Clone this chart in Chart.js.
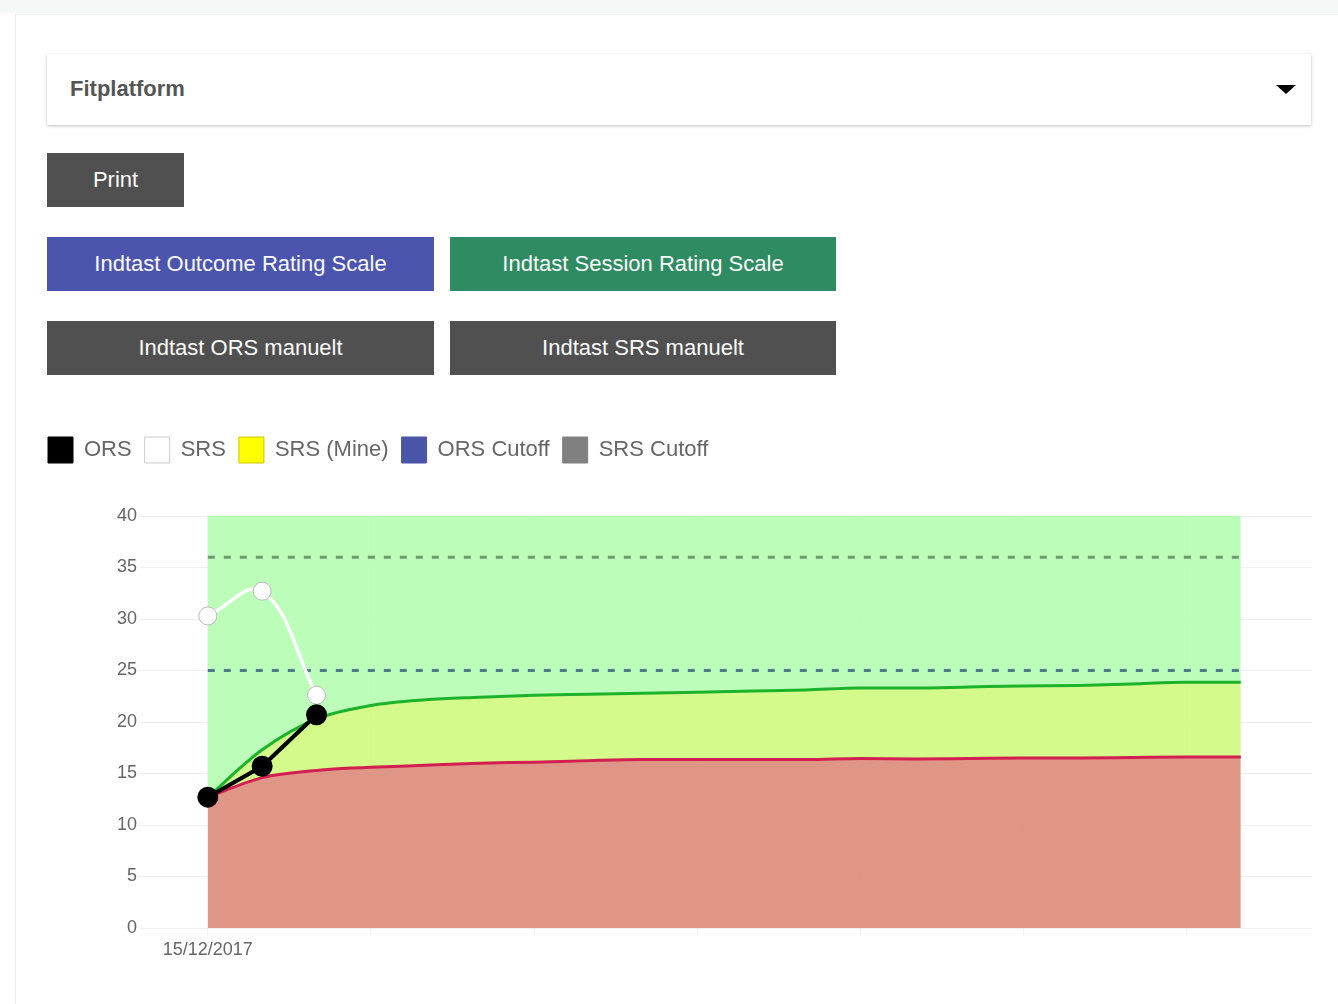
<!DOCTYPE html>
<html>
<head>
<meta charset="utf-8">
<script src="https://cdn.jsdelivr.net/npm/chart.js@4.4.0/dist/chart.umd.min.js"></script>
<style>
  html, body { margin: 0; padding: 0; }
  body { width: 1338px; height: 1004px; overflow: hidden; background: #fff; position: relative;
         font-family: "Liberation Sans", Arial, sans-serif; }
  .topbar { position: absolute; left: 0; top: 0; width: 1338px; height: 13px; background: #f6f8f8; }
  .card { position: absolute; left: 15px; top: 14px; width: 1340px; height: 1000px; background: #fff;
          border-left: 1px solid #ececec; border-top: 1px solid #f0f0f0; box-shadow: 0 0 2px rgba(0,0,0,0.06); }
  .panel { position: absolute; left: 47px; top: 54px; width: 1264px; height: 71px; background: #fff;
           box-shadow: 0 1px 3px rgba(0,0,0,0.25); }
  .panel span { position: absolute; left: 23px; top: 0; line-height: 69px; font-size: 22px; font-weight: bold; color: #555; }
  .caret { position: absolute; right: 15px; top: 31px; width: 0; height: 0;
           border-left: 10px solid transparent; border-right: 10px solid transparent; border-top: 9px solid #000; }
  .btn { position: absolute; height: 54px; line-height: 54px; color: #fafafa; font-size: 22px; text-align: center; }
  .dark { background: #505050; }
  .blue { background: #4b55ad; }
  .green { background: #2e8b62; }
  #chartBox { position: absolute; left: 35px; top: 424px; width: 1277px; height: 554px; }
</style>
</head>
<body>
<div class="topbar"></div>
<div class="card"></div>
<div class="panel"><span>Fitplatform</span><div class="caret"></div></div>
<div class="btn dark" style="left:47px;top:153px;width:137px;">Print</div>
<div class="btn blue" style="left:47px;top:237px;width:387px;">Indtast Outcome Rating Scale</div>
<div class="btn green" style="left:450px;top:237px;width:386px;">Indtast Session Rating Scale</div>
<div class="btn dark" style="left:47px;top:321px;width:387px;">Indtast ORS manuelt</div>
<div class="btn dark" style="left:450px;top:321px;width:386px;">Indtast SRS manuelt</div>
<div id="chartBox"><canvas id="chart"></canvas></div>

<script>
// Sessioner (kun første dato har label)
const sessionDates = ['15/12/2017', '', '', '', '', '', '', '', '', '', '', '', '', '', '', '', '', '', '', ''];
const gridSessions = [0, 3, 6, 9, 12, 15, 18];

// Scorer
const orsScores = [12.7, 15.7, 20.7];
const srsScores = [30.3, 32.7, 22.6];
const srsMineScores = [];

// Cutoff-linjer og forventet forløb
const orsCutoff = [25, 25, 25, 25, 25, 25, 25, 25, 25, 25, 25, 25, 25, 25, 25, 25, 25, 25, 25, 25];
const srsCutoff = [36, 36, 36, 36, 36, 36, 36, 36, 36, 36, 36, 36, 36, 36, 36, 36, 36, 36, 36, 36];
const scaleTop = [40, 40, 40, 40, 40, 40, 40, 40, 40, 40, 40, 40, 40, 40, 40, 40, 40, 40, 40, 40];
const expectedUpper = [12.7, 17.3, 20.3, 21.6, 22.15, 22.4, 22.6, 22.7, 22.8, 22.9, 23.0, 23.1, 23.3, 23.3, 23.4, 23.5, 23.55, 23.7, 23.85, 23.85];
const expectedLower = [12.7, 14.6, 15.3, 15.6, 15.8, 16.0, 16.1, 16.25, 16.35, 16.35, 16.35, 16.35, 16.45, 16.4, 16.45, 16.5, 16.5, 16.55, 16.6, 16.6];

const yTicks = [0, 5, 10, 15, 20, 25, 30, 35, 40];

const pts = arr => arr.map((y, i) => ({ x: i, y }));
const FONT = '"Liberation Sans", Arial, sans-serif';

// legenden skal have lidt luft ned til grafen
const legendGap = {
  id: 'legendGap',
  beforeInit(chart) {
    const fit = chart.legend.fit;
    chart.legend.fit = function () {
      fit.bind(chart.legend)();
      this.height += 43;
    };
  }
};

new Chart(document.getElementById('chart'), {
  type: 'line',
  data: {
    datasets: [
      { label: 'ORS', data: pts(orsScores), borderColor: '#000', backgroundColor: '#000', borderWidth: 4,
        pointRadius: 8.5, pointHoverRadius: 8.5, tension: 0, fill: false },
      { label: 'SRS', data: pts(srsScores), borderColor: '#fff', backgroundColor: '#fff', borderWidth: 3.5,
        pointBorderColor: '#bbb', pointBorderWidth: 1, pointRadius: 9, pointHoverRadius: 9, tension: 0.4, fill: false },
      { label: 'SRS (Mine)', data: pts(srsMineScores), borderColor: '#c9c900', backgroundColor: '#ffff00', fill: false },
      { label: 'ORS Cutoff', data: pts(orsCutoff), borderColor: '#4b7c8b', borderWidth: 3, borderDash: [7, 9],
        pointRadius: 0, fill: false },
      { label: 'SRS Cutoff', data: pts(srsCutoff), borderColor: '#6e9a6f', borderWidth: 3, borderDash: [7, 9],
        pointRadius: 0, fill: false },
      { label: 'top', data: pts(scaleTop), borderWidth: 0, pointRadius: 0, backgroundColor: 'rgba(180,253,177,0.9)', fill: '+1' },
      { label: 'upper', data: pts(expectedUpper), borderColor: '#1db22b', borderWidth: 3, pointRadius: 0,
        cubicInterpolationMode: 'monotone', backgroundColor: 'rgba(206,250,125,0.9)', fill: '+1' },
      { label: 'lower', data: pts(expectedLower), borderColor: '#d21e50', borderWidth: 3, pointRadius: 0,
        cubicInterpolationMode: 'monotone', backgroundColor: 'rgba(219,139,121,0.9)', fill: 'origin' }
    ]
  },
  options: {
    responsive: true,
    maintainAspectRatio: false,
    animation: false,
    layout: { autoPadding: false, padding: { left: 0, right: 0, top: 0, bottom: 10 } },
    plugins: {
      tooltip: { enabled: false },
      filler: { drawTime: 'beforeDatasetsDraw' },
      legend: {
        position: 'top',
        align: 'start',
        labels: {
          boxWidth: 25, boxHeight: 26, padding: 13, color: '#666',
          font: { family: FONT, size: 22 },
          generateLabels: chart => {
            const fill = ['#000000', '#ffffff', '#ffff00', '#4a55a8', '#808080'];
            const stroke = ['#000000', '#cccccc', '#c9c900', '#4a55a8', '#808080'];
            return chart.data.datasets.slice(0, 5).map((ds, i) => ({
              text: ds.label, fillStyle: fill[i], strokeStyle: stroke[i], lineWidth: 1,
              hidden: false, datasetIndex: i, fontColor: '#666'
            }));
          }
        }
      }
    },
    scales: {
      x: {
        type: 'linear',
        min: -1.1,
        max: 20.31,
        afterFit: s => { s.height = 40; },
        afterBuildTicks: s => { s.ticks = gridSessions.map(v => ({ value: v })); },
        border: { display: false },
        grid: { color: 'rgba(0,0,0,0.05)', tickLength: 8 },
        ticks: { autoSkip: false, maxRotation: 0, color: '#666', font: { family: FONT, size: 18 },
                 callback: v => sessionDates[v] || '' }
      },
      y: {
        min: 0,
        max: 40,
        afterFit: s => { s.width = 113; },
        afterBuildTicks: s => { s.ticks = yTicks.map(v => ({ value: v })); },
        border: { display: false },
        grid: { color: 'rgba(0,0,0,0.06)', tickLength: 8 },
        ticks: { color: '#666', font: { family: FONT, size: 18 } }
      }
    }
  },
  plugins: [legendGap]
});
</script>
</body>
</html>
